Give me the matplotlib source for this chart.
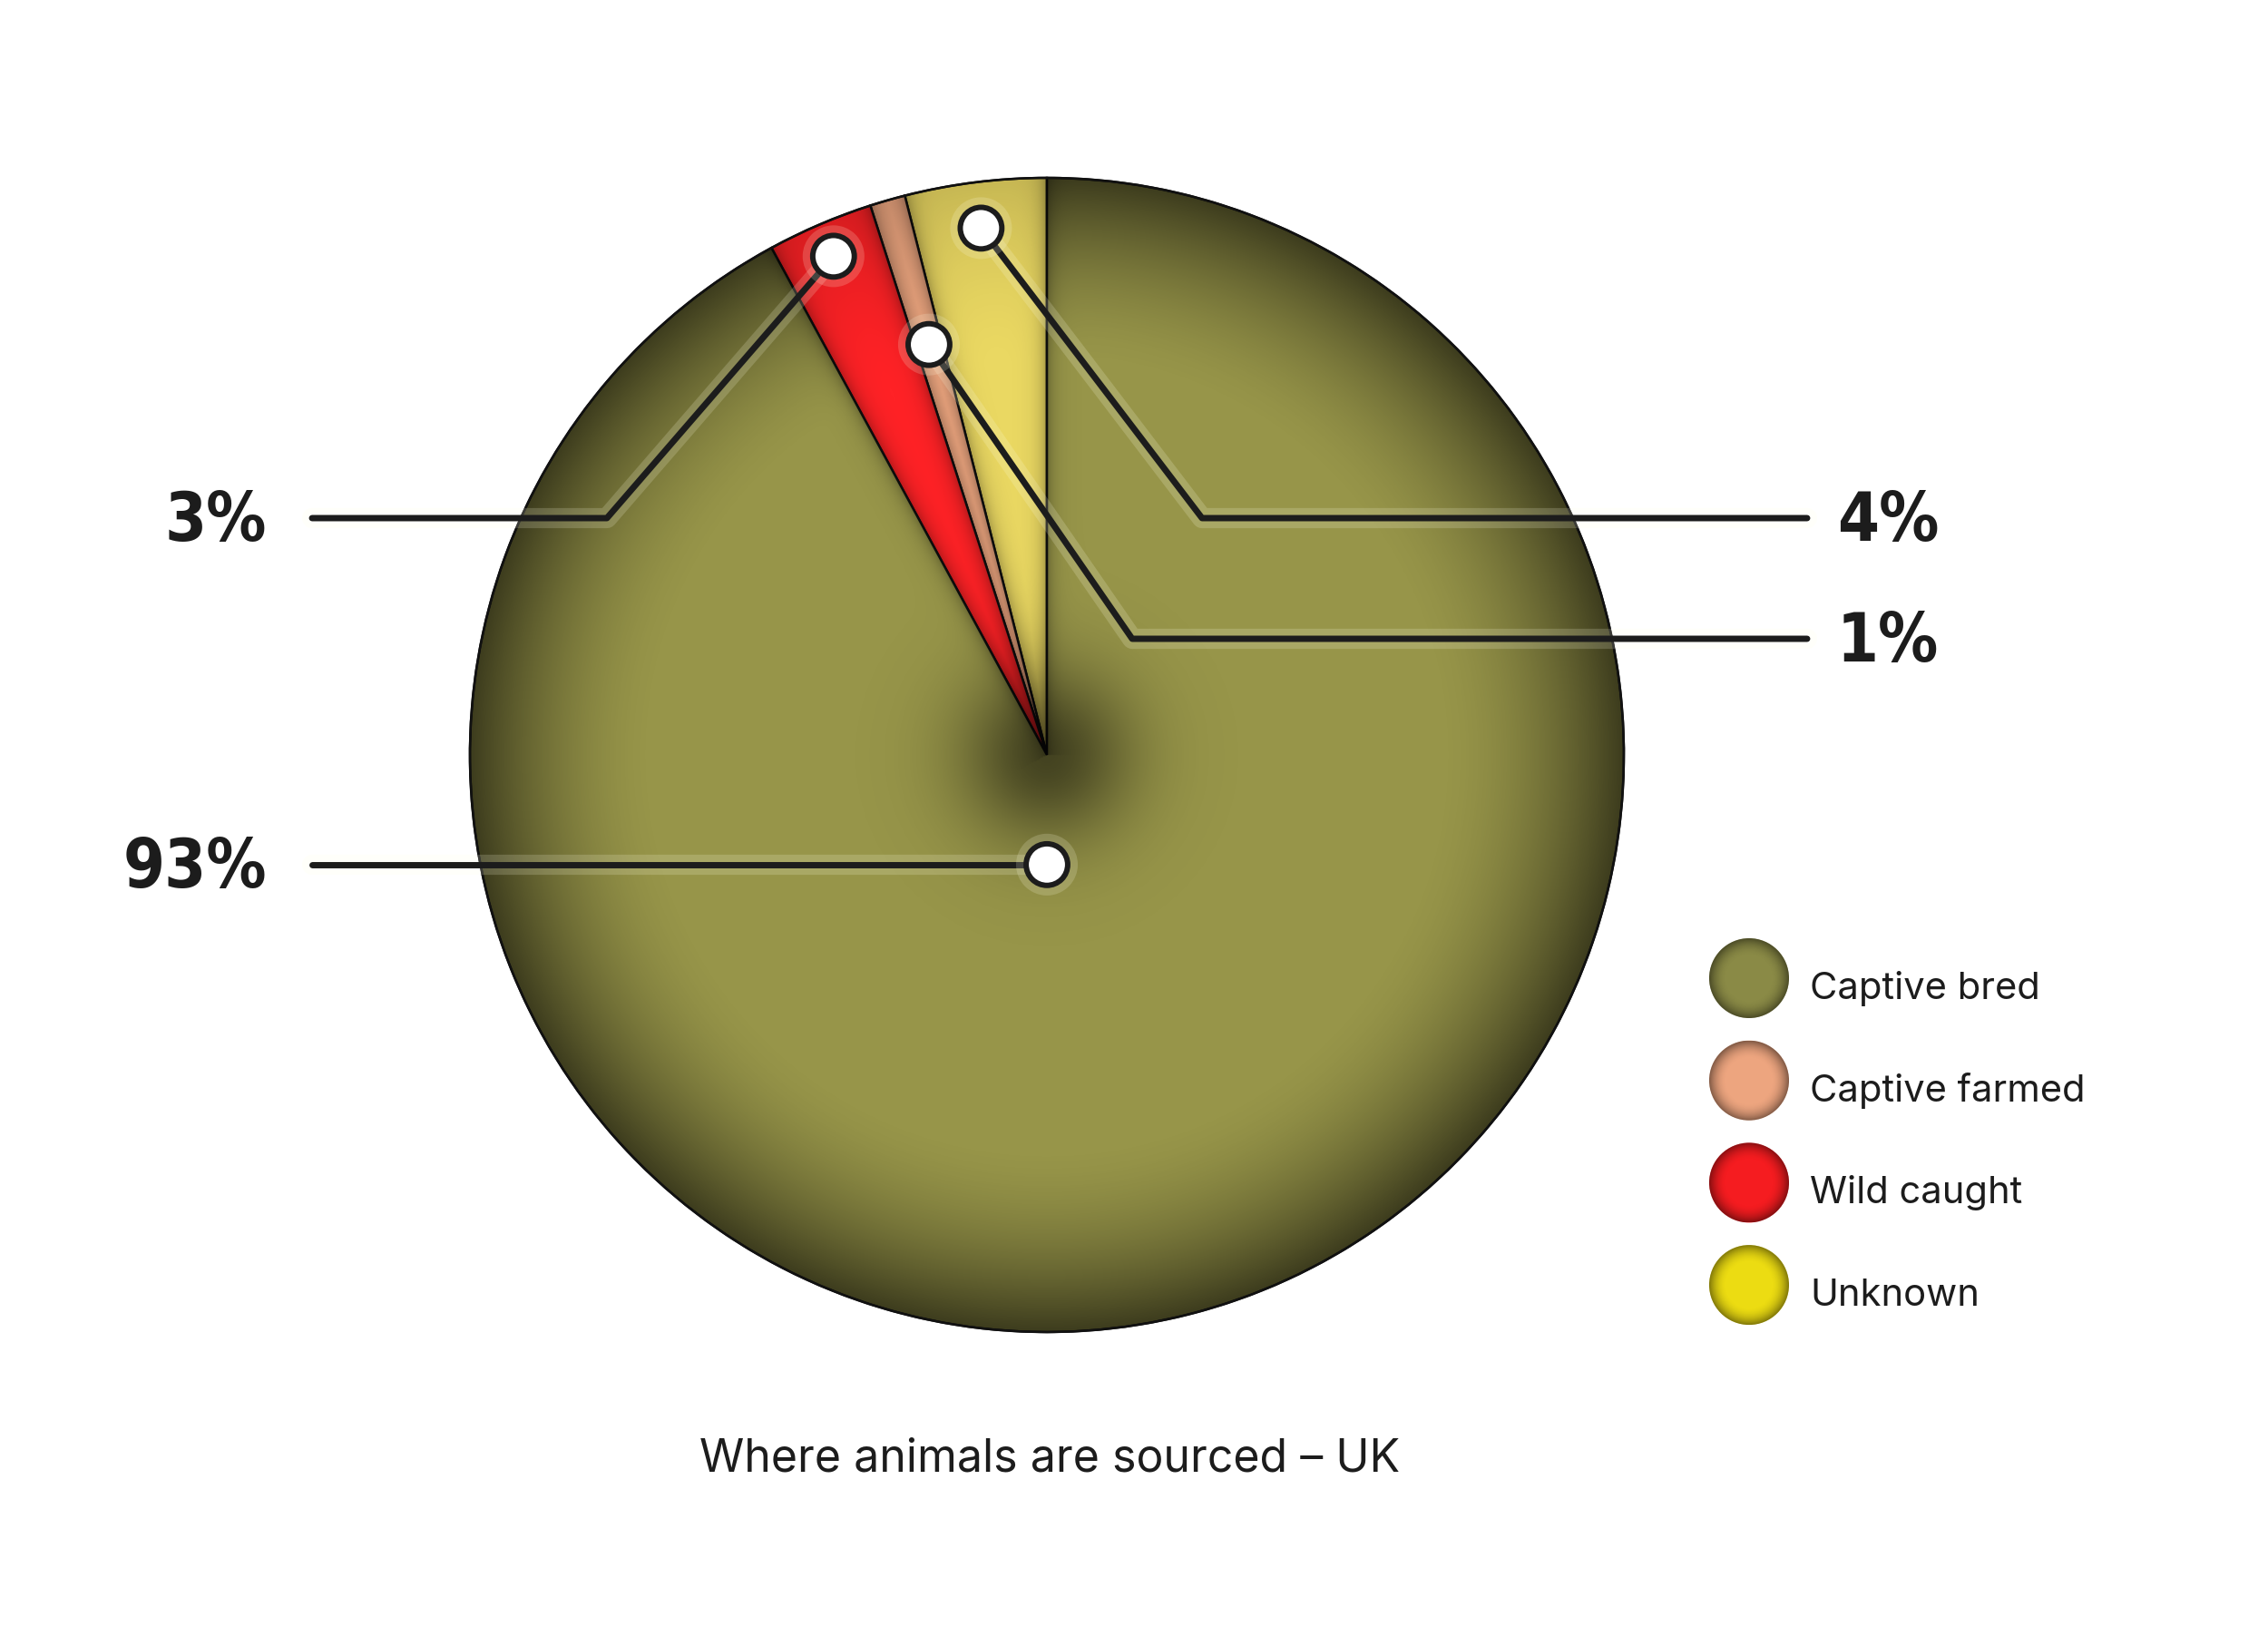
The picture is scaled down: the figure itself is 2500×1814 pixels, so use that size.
import numpy as np
import matplotlib
matplotlib.use("Agg")
import matplotlib.pyplot as plt
from matplotlib.patches import Circle
import matplotlib.patheffects as pe

# data (counter-clockwise from the top)
slices = ["Unknown", "Captive farmed", "Wild caught", "Captive bred"]
values = [4, 1, 3, 93]
pie_colors = ["#ead862", "#f0a881", "#ff2226", "#979549"]
pct_labels = ["4%", "1%", "3%", "93%"]

legend_labels = ["Captive bred", "Captive farmed", "Wild caught", "Unknown"]
legend_colors = ["#8a8a46", "#eda57f", "#f51c20", "#ecdc12"]

title = "Where animals are sourced \u2013 UK"

W, H = 2500, 1814
cx, cy, R = 1154, H - 832, 636

fig = plt.figure(figsize=(25, 18.14), dpi=100)
ax = fig.add_axes([0, 0, 1, 1])

wedges, _ = ax.pie(values, colors=pie_colors, startangle=90, counterclock=True,
                   center=(cx, cy), radius=R,
                   wedgeprops=dict(edgecolor="#111111", linewidth=1.8))
ax.set_xlim(0, W)
ax.set_ylim(0, H)
ax.set_aspect("auto")
ax.axis("off")

# shading: dark rim (big slice), dark centre, dark along slice edges
n = 900
xs = np.linspace(cx - R, cx + R, n)
ys = np.linspace(cy - R, cy + R, n)
X, Y = np.meshgrid(xs, ys)
dx, dy = X - cx, Y - cy
rr = np.hypot(dx, dy)
th = np.degrees(np.arctan2(dy, dx)) % 360
bounds = [w.theta1 for w in wedges]
big = wedges[-1]
in_big = ((th - big.theta1) % 360) <= (big.theta2 - big.theta1)
rim_amp = np.where(in_big, 0.6, 0.15)
a_rim = rim_amp * np.clip((rr / R - 0.68) / 0.32, 0, 1) ** 1.7
a_c = 0.55 * np.exp(-(rr / 95.0) ** 2)
a_e = np.zeros_like(rr)
for b in bounds:
    dth = np.radians((th - b + 180) % 360 - 180)
    d = np.where(np.abs(dth) < np.pi / 2, rr * np.abs(np.sin(dth)), 1e4)
    a_e = np.maximum(a_e, 0.3 * np.exp(-d / 9.0))
alpha = 1 - (1 - a_rim) * (1 - a_c) * (1 - a_e)
shade = np.zeros((n, n, 4))
shade[..., 3] = alpha
clip = Circle((cx, cy), R, transform=ax.transData)
im = ax.imshow(shade, extent=(cx - R, cx + R, cy - R, cy + R), origin="lower",
               interpolation="bilinear", zorder=2)
im.set_clip_path(clip)
ax.add_patch(Circle((cx, cy), R, fill=False, edgecolor="#111111", lw=1.8, zorder=3))
# redraw slice borders on top of the shading
for w in wedges:
    ax.add_patch(plt.Polygon(w.get_path().vertices * R + [cx, cy], closed=True,
                             fill=False, edgecolor="#111111", lw=1.8, zorder=3))

# leader lines
glow = [pe.Stroke(linewidth=16, foreground=(1, 1, 0.9, 0.18)), pe.Normal()]
line_kw = dict(color="#1c1c1c", lw=5, solid_capstyle="round", zorder=4, path_effects=glow)
marker_r = {"Unknown": 0.92, "Captive farmed": 0.74, "Wild caught": 0.94, "Captive bred": 0.19}
corner = {"Unknown": (1325, H - 571), "Captive farmed": (1248, H - 704),
          "Wild caught": (669, H - 571), "Captive bred": None}
end_x = {"Unknown": 1992, "Captive farmed": 1992, "Wild caught": 344, "Captive bred": 344}
lab_font = dict(family=["DejaVu Sans"], weight="bold", stretch="condensed",
                fontsize=53, color="#1c1c1c")
for w, name, lab in zip(wedges, slices, pct_labels):
    ang = 270.0 if name == "Captive bred" else (w.theta1 + w.theta2) / 2
    mx = cx + marker_r[name] * R * np.cos(np.radians(ang))
    my = cy + marker_r[name] * R * np.sin(np.radians(ang))
    if corner[name] is None:
        px, py = [mx, end_x[name]], [my, my]
        ly = my
    else:
        px = [mx, corner[name][0], end_x[name]]
        py = [my, corner[name][1], corner[name][1]]
        ly = corner[name][1]
    ax.plot(px, py, **line_kw)
    ax.plot([mx], [my], "o", ms=33, mfc="white", mec="#1c1c1c", mew=4.3, zorder=5,
            path_effects=glow)
    if end_x[name] > cx:
        ax.text(end_x[name] + 33, ly - 25, lab, ha="left", va="baseline", **lab_font)
    else:
        ax.text(end_x[name] - 50, ly - 25, lab, ha="right", va="baseline", **lab_font)

# legend
leg_y0, leg_dy = H - 1078, 112.7
g = np.linspace(-1, 1, 200)
GX, GY = np.meshgrid(g, g)
gs = np.zeros((200, 200, 4))
gs[..., 3] = 0.45 * np.clip((np.hypot(GX, GY) - 0.55) / 0.45, 0, 1) ** 2
for i, (lab, col) in enumerate(zip(legend_labels, legend_colors)):
    y = leg_y0 - i * leg_dy
    ax.add_patch(Circle((1928, y), 44, facecolor=col, edgecolor="none", zorder=3))
    gim = ax.imshow(gs, extent=(1928 - 44, 1928 + 44, y - 44, y + 44), origin="lower", zorder=4)
    gim.set_clip_path(Circle((1928, y), 44, transform=ax.transData))
    ax.text(1995, y - 23, lab, ha="left", va="baseline", fontsize=30,
            family=["Inter", "DejaVu Sans"], color="#1c1c1c")

ax.text(1157, H - 1621, title, ha="center", va="baseline", fontsize=36,
        family=["Inter", "DejaVu Sans"], color="#1c1c1c")

fig.savefig("out.png", dpi=100, facecolor="white")
